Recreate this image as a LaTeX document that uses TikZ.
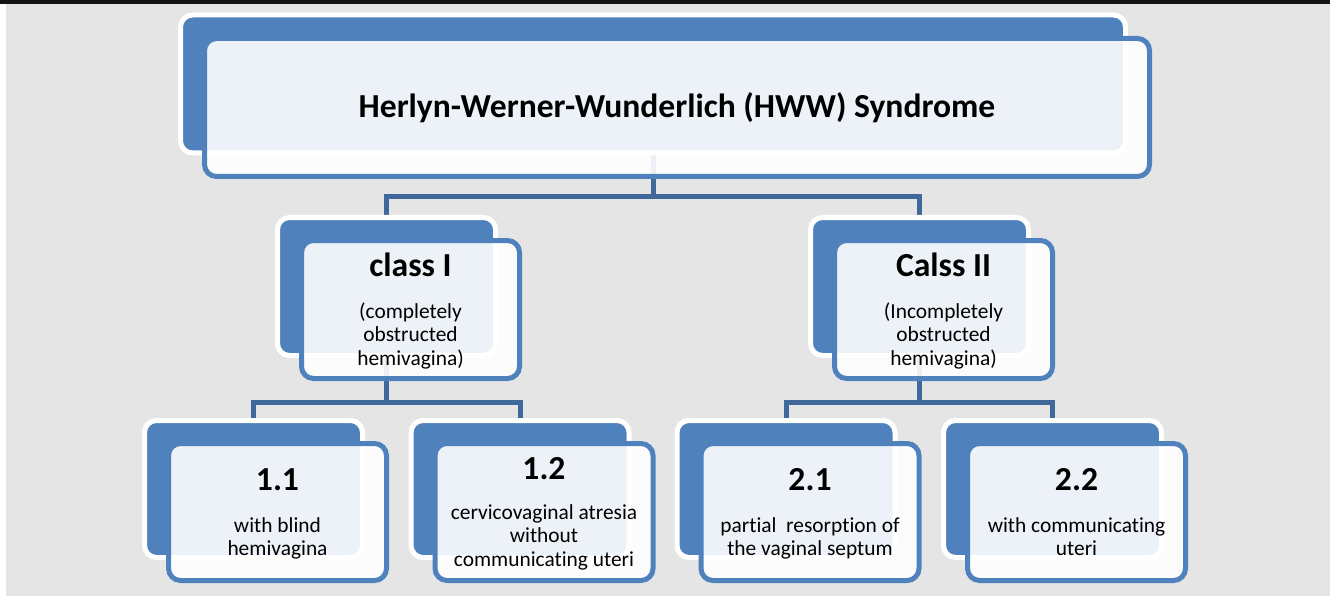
\documentclass[tikz,border=0pt]{standalone}
\usepackage{fontspec}
\setmainfont{Carlito}[Ligatures=NoCommon]
\definecolor{hwwblue}{HTML}{4F81BD}
\definecolor{linkblue}{HTML}{41689B}
\definecolor{bggray}{HTML}{E5E5E5}
\newcommand\hwwlines[1]{\begin{tabular}[t]{@{}c@{}}#1\end{tabular}}
\pgfdeclarelayer{bg}
\pgfdeclarelayer{links}
\pgfsetlayers{bg,links,main}
\begin{document}
\begin{tikzpicture}[x=1pt,y=-1pt,
  backbox/.style={draw=white,line width=5pt,fill=hwwblue,rounded corners=12pt,inner sep=0pt,outer sep=0pt},
  frontbox/.style={draw=hwwblue,line width=5pt,fill=white,fill opacity=0.9,rounded corners=12pt,inner sep=0pt,outer sep=0pt},
  boxwide/.style={minimum width=945pt,minimum height=138pt},
  boxmid/.style={minimum width=218pt,minimum height=138pt},
  boxlow/.style={minimum width=218pt,minimum height=137pt},
  head/.style={font=\fontsize{33.6}{36}\selectfont\bfseries,anchor=base,inner sep=0pt},
  body/.style={font=\fontsize{21.4}{23.5}\selectfont,anchor=base,inner sep=0pt},
  link/.style={draw=linkblue,line width=5pt}]
\begin{pgfonlayer}{bg}
  \fill[white] (0,0) rectangle (1330,596);
  \fill[black!92] (0,0) rectangle (1330,4);
  \fill[bggray] (6,4) rectangle (1330,596);
\end{pgfonlayer}
\useasboundingbox (0,0) rectangle (1330,596);

% back boxes
\node[backbox,boxwide] (tb) at (653,84) {};
\node[backbox,boxmid] (c1b) at (386.5,286.5) {};
\node[backbox,boxmid] (c2b) at (919.5,286.5) {};
\node[backbox,boxlow] (k11b) at (253.5,489) {};
\node[backbox,boxlow] (k12b) at (520,489) {};
\node[backbox,boxlow] (k21b) at (786,489) {};
\node[backbox,boxlow] (k22b) at (1052.5,489) {};

% front boxes
\node[frontbox,boxwide] (tf) at (677,107.5) {};
\node[frontbox,boxmid] (c1f) at (410.5,309.5) {};
\node[frontbox,boxmid] (c2f) at (943.5,309.5) {};
\node[frontbox,boxlow] (k11f) at (277.5,512) {};
\node[frontbox,boxlow] (k12f) at (544,512) {};
\node[frontbox,boxlow] (k21f) at (810,512) {};
\node[frontbox,boxlow] (k22f) at (1076.5,512) {};

% connectors
\coordinate (j0) at (653,197);
\coordinate (j1) at (386.5,402);
\coordinate (j2) at (919.5,402);
\begin{pgfonlayer}{links}
  \draw[link] (tb.south) -- (j0);
  \draw[link] (c1b.north) |- (j0) -| (c2b.north);
  \draw[link] (c1b.south) -- (j1);
  \draw[link] (k11b.north) |- (j1) -| (k12b.north);
  \draw[link] (c2b.south) -- (j2);
  \draw[link] (k21b.north) |- (j2) -| (k22b.north);
\end{pgfonlayer}

% texts
\node[head] (tt) at (677,117.3) {Herlyn-Werner-Wunderlich (HWW) Syndrome};
\node[head] (c1h) at (410.5,276.7) {class I};
\node[body] (c1t) at (410.5,318.3) {\hwwlines{(completely\\obstructed\\hemivagina)}};
\node[head] (c2h) at (943.5,276.7) {Calss II};
\node[body] (c2t) at (943.5,318.3) {\hwwlines{(Incompletely\\obstructed\\hemivagina)}};
\node[head] (k11h) at (277.5,490.7) {1.1};
\node[body] (k11t) at (277.5,532) {\hwwlines{with blind\\hemivagina}};
\node[head] (k12h) at (544,479) {1.2};
\node[body] (k12t) at (544,519.4) {\hwwlines{cervicovaginal atresia\\without\\communicating uteri}};
\node[head] (k21h) at (810,490.7) {2.1};
\node[body] (k21t) at (810,532) {\hwwlines{partial\ \ resorption of\\the vaginal septum}};
\node[head] (k22h) at (1076.5,490.7) {2.2};
\node[body] (k22t) at (1076.5,532) {\hwwlines{with communicating\\uteri}};
\end{tikzpicture}
\end{document}
